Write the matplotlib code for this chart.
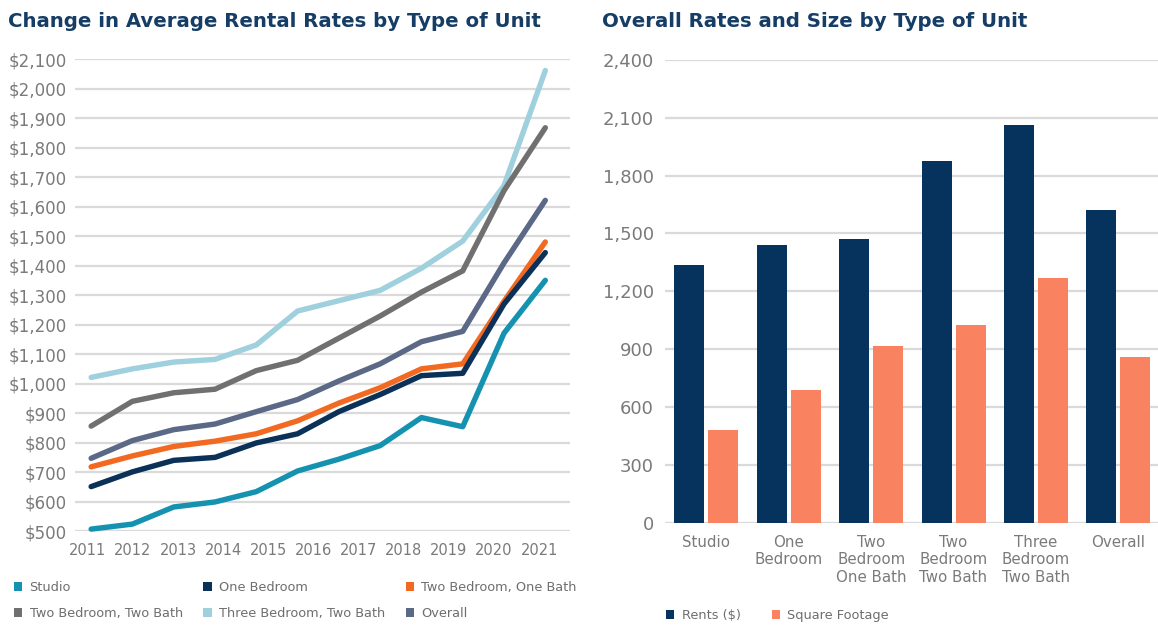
#!/usr/bin/env python3
import numpy as np
import matplotlib
matplotlib.use("Agg")
import matplotlib.pyplot as plt
from matplotlib.patches import Patch
from matplotlib.ticker import FuncFormatter

# ---- data: left chart (12 survey points, labelled 2011-2021) ----
year_labels = ['2011', '2012', '2013', '2014', '2015', '2016',
               '2017', '2018', '2019', '2020', '2021']
studio = [508, 525, 583, 600, 635, 705, 745, 791, 886, 855, 1172, 1351]
one_bed = [652, 702, 741, 751, 800, 831, 906, 964, 1028, 1036, 1271, 1445]
two_bed_one_bath = [719, 756, 788, 806, 831, 875, 935, 987, 1051, 1068, 1280, 1481]
two_bed_two_bath = [857, 941, 970, 982, 1045, 1080, 1155, 1230, 1311, 1383, 1655, 1868]
three_bed_two_bath = [1022, 1051, 1074, 1083, 1132, 1247, 1282, 1317, 1392, 1484, 1672, 2062]
overall = [748, 808, 845, 864, 906, 947, 1010, 1068, 1143, 1178, 1410, 1622]

# ---- data: right chart ----
unit_types = ['Studio', 'One\nBedroom', 'Two\nBedroom\nOne Bath',
              'Two\nBedroom\nTwo Bath', 'Three\nBedroom\nTwo Bath', 'Overall']
rents = [1338, 1438, 1472, 1874, 2062, 1624]
sq_footage = [480, 690, 914, 1024, 1269, 858]

TITLE_COLOR = '#163d66'
TICK_COLOR = '#7a7a7a'
GRID_COLOR = '#dadada'

plt.rcParams['font.family'] = ['DejaVu Sans']

fig = plt.figure(figsize=(11.58, 6.26), dpi=100)

# ---------------- left: line chart ----------------
ax1 = fig.add_axes([0.0648, 0.1510, 0.4275, 0.7543])
series = [
    ('Three Bedroom, Two Bath', three_bed_two_bath, '#9fd0de'),
    ('Two Bedroom, Two Bath', two_bed_two_bath, '#707070'),
    ('Overall', overall, '#5b6886'),
    ('Two Bedroom, One Bath', two_bed_one_bath, '#f26a21'),
    ('One Bedroom', one_bed, '#0b3158'),
    ('Studio', studio, '#1592b0'),
]
colors = {}
for name, vals, col in series:
    ax1.plot(np.arange(len(vals)), vals, color=col, lw=3.9,
             solid_capstyle='round', solid_joinstyle='round',
             clip_on=False, zorder=3)
    colors[name] = col

ax1.set_ylim(500, 2100)
ax1.set_yticks(np.arange(500, 2101, 100))
ax1.yaxis.set_major_formatter(FuncFormatter(lambda v, p: '${:,.0f}'.format(v)))
ax1.set_xlim(-0.39, 11.6)
ax1.set_xticks(np.linspace(-0.08, 10.85, len(year_labels)))
ax1.set_xticklabels(year_labels)
ax1.grid(axis='y', color=GRID_COLOR, lw=1.6)
ax1.set_axisbelow(True)
for s in ax1.spines.values():
    s.set_visible(False)
ax1.tick_params(axis='y', length=0, pad=6, labelsize=12, labelcolor=TICK_COLOR)
ax1.tick_params(axis='x', length=0, pad=8, labelsize=10.5, labelcolor=TICK_COLOR)

fig.text(8 / 1158, 1 - 27 / 626, 'Change in Average Rental Rates by Type of Unit',
         fontsize=14.2, fontweight='bold', color=TITLE_COLOR,
         ha='left', va='baseline')

order = ['Studio', 'Two Bedroom, Two Bath', 'One Bedroom',
         'Three Bedroom, Two Bath', 'Two Bedroom, One Bath', 'Overall']
handles = [Patch(facecolor=colors[n], edgecolor='none', label=n) for n in order]
fig.legend(handles=handles, loc='upper left', ncol=3, frameon=False,
           bbox_to_anchor=(14 / 1158, 1 - 581 / 626), borderaxespad=0, borderpad=0,
           fontsize=9.3, labelcolor='#6e6e6e', handlelength=0.65, handleheight=0.65,
           handletextpad=0.55, columnspacing=1.6, labelspacing=1.0)

# ---------------- right: grouped bars ----------------
ax2 = fig.add_axes([0.5743, 0.1653, 0.4257, 0.7388])
x = np.arange(len(unit_types))
bw = 0.364
off = 0.206
ax2.bar(x - off, rents, bw, color='#06335e', label='Rents ($)', zorder=3)
ax2.bar(x + off, sq_footage, bw, color='#f98361', label='Square Footage', zorder=3)
ax2.set_ylim(0, 2400)
ax2.set_yticks(np.arange(0, 2401, 300))
ax2.yaxis.set_major_formatter(FuncFormatter(lambda v, p: '{:,.0f}'.format(v)))
ax2.set_xlim(-0.5, 5.48)
ax2.set_xticks(x)
ax2.set_xticklabels(unit_types, linespacing=1.2)
ax2.grid(axis='y', color=GRID_COLOR, lw=1.6)
ax2.set_axisbelow(True)
for s in ax2.spines.values():
    s.set_visible(False)
ax2.tick_params(axis='y', length=0, pad=8, labelsize=13, labelcolor=TICK_COLOR)
ax2.tick_params(axis='x', length=0, pad=9, labelsize=10.8, labelcolor=TICK_COLOR)

fig.text(602 / 1158, 1 - 27 / 626, 'Overall Rates and Size by Type of Unit',
         fontsize=14.2, fontweight='bold', color=TITLE_COLOR,
         ha='left', va='baseline')

fig.legend(handles=[Patch(facecolor='#06335e', label='Rents ($)'),
                    Patch(facecolor='#f98361', label='Square Footage')],
           loc='upper left', ncol=2, frameon=False,
           bbox_to_anchor=(666 / 1158, 1 - 609 / 626), borderaxespad=0, borderpad=0,
           fontsize=9.3, labelcolor='#6e6e6e', handlelength=0.65, handleheight=0.65,
           handletextpad=0.55, columnspacing=2.4)

fig.savefig('out.png', dpi=100, facecolor='white')
